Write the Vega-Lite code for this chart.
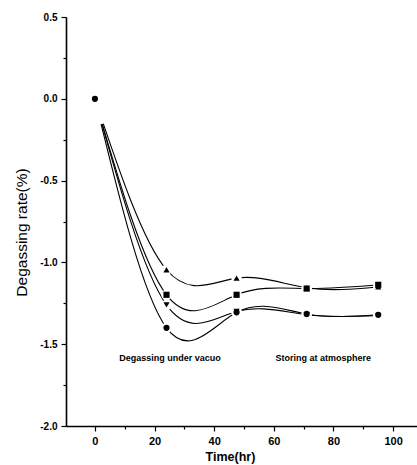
{
  "$schema": "https://vega.github.io/schema/vega-lite/v6.json",
  "width": 351,
  "height": 409,
  "autosize": {"type": "none"},
  "padding": {"left": 66, "top": 17, "right": 0, "bottom": 39},
  "background": "white",
  "config": {
    "view": {"stroke": null},
    "font": "Liberation Sans",
    "axis": {"domainColor": "black", "domainWidth": 1.6, "tickColor": "black", "tickWidth": 1.2, "labelColor": "black", "titleColor": "black", "grid": false}
  },
  "datasets": {
    "series": [
      {"t": 0, "rate": 0.0, "sample": "up"},
      {"t": 24, "rate": -1.045, "sample": "up"},
      {"t": 47.5, "rate": -1.096, "sample": "up"},
      {"t": 71, "rate": -1.155, "sample": "up"},
      {"t": 95, "rate": -1.15, "sample": "up"},
      {"t": 0, "rate": 0.0, "sample": "square"},
      {"t": 24, "rate": -1.198, "sample": "square"},
      {"t": 47.5, "rate": -1.198, "sample": "square"},
      {"t": 71, "rate": -1.16, "sample": "square"},
      {"t": 95, "rate": -1.137, "sample": "square"},
      {"t": 0, "rate": 0.0, "sample": "down"},
      {"t": 24, "rate": -1.26, "sample": "down"},
      {"t": 47.5, "rate": -1.30, "sample": "down"},
      {"t": 71, "rate": -1.32, "sample": "down"},
      {"t": 95, "rate": -1.325, "sample": "down"},
      {"t": 0, "rate": 0.0, "sample": "circle"},
      {"t": 24, "rate": -1.40, "sample": "circle"},
      {"t": 47.5, "rate": -1.305, "sample": "circle"},
      {"t": 71, "rate": -1.315, "sample": "circle"},
      {"t": 95, "rate": -1.32, "sample": "circle"}
    ],
    "notes": [
      {"t": 25.2, "rate": -1.586, "text": "Degassing under vacuo"},
      {"t": 76.6, "rate": -1.586, "text": "Storing at atmosphere"}
    ]
  },
  "encoding": {
    "x": {
      "field": "t", "type": "quantitative",
      "scale": {"domain": [-9.7, 108], "nice": false, "zero": false},
      "axis": {
        "values": [0, 10, 20, 30, 40, 50, 60, 70, 80, 90, 100],
        "labelExpr": "datum.value % 20 === 0 ? datum.label : ''",
        "tickSize": {"condition": {"test": "datum.value % 20 === 0", "value": 5}, "value": 3},
        "labelFontSize": 11, "labelFontWeight": "bold", "labelPadding": 4,
        "title": "Time(hr)", "titleFontSize": 12.5, "titleFontWeight": "bold",
        "titleX": 164, "titleY": 30, "titleBaseline": "middle", "titleAlign": "center"
      }
    },
    "y": {
      "field": "rate", "type": "quantitative",
      "scale": {"domain": [-2, 0.5], "nice": false, "zero": false},
      "axis": {
        "values": [-2, -1.75, -1.5, -1.25, -1, -0.75, -0.5, -0.25, 0, 0.25, 0.5],
        "labelExpr": "abs(datum.value*2 - round(datum.value*2)) < 0.001 ? replace(format(datum.value, '.1f'), '\u2212', '-') : ''",
        "tickSize": {"condition": {"test": "abs(datum.value*2 - round(datum.value*2)) < 0.001", "value": 5}, "value": 3},
        "labelFontSize": 10, "labelFontWeight": "bold", "labelPadding": 4,
        "title": "Degassing rate(%)", "titleFontSize": 15.5, "titleFontWeight": "normal",
        "titleX": -45, "titleY": 215, "titleBaseline": "middle", "titleAlign": "center", "titleAngle": -90
      }
    }
  },
  "layer": [
    {
      "data": {"name": "series"},
      "mark": {"type": "line", "interpolate": "natural", "color": "black", "strokeWidth": 1.1},
      "encoding": {"detail": {"field": "sample", "type": "nominal"}}
    },
    {
      "data": {"name": "series"},
      "transform": [{"filter": "datum.t === 0"}],
      "mark": {"type": "point", "filled": true, "color": "white", "opacity": 1, "size": 2704, "shape": "circle"},
      "encoding": {}
    },
    {
      "data": {"name": "series"},
      "transform": [{"filter": "datum.t > 0"}],
      "mark": {"type": "point", "filled": true, "color": "white", "opacity": 1, "size": 110, "shape": "circle"},
      "encoding": {}
    },
    {
      "data": {"name": "series"},
      "transform": [{"filter": "datum.t > 0 || datum.sample === 'circle'"}],
      "mark": {"type": "point", "filled": true, "color": "black", "opacity": 1, "size": 38},
      "encoding": {
        "shape": {
          "field": "sample", "type": "nominal", "legend": null,
          "scale": {"domain": ["up", "square", "down", "circle"], "range": ["triangle-up", "square", "triangle-down", "circle"]}
        }
      }
    },
    {
      "data": {"name": "notes"},
      "mark": {"type": "text", "fontSize": 9, "fontWeight": "bold", "color": "black", "align": "center", "baseline": "middle"},
      "encoding": {"text": {"field": "text", "type": "nominal"}}
    },
    {
      "data": {"values": [{}]},
      "mark": {"type": "rule", "color": "black", "strokeWidth": 1.8},
      "encoding": {"y": {"datum": 0.5}, "x": null}
    }
  ]
}
